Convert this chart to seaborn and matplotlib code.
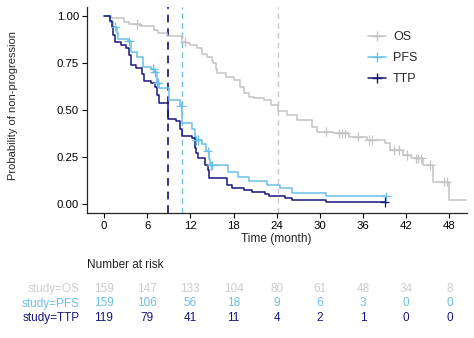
import numpy as np
import pandas as pd
import matplotlib
matplotlib.use("Agg")
import matplotlib.pyplot as plt
from matplotlib.lines import Line2D
from matplotlib.transforms import blended_transform_factory
import seaborn as sns

# ---- Kaplan-Meier step data (event times and survival after each step) ----
os_times = [0.95, 2.8, 3.5, 5.0, 6.9, 7.5, 8.8, 10.8, 11.4, 12.0, 12.9, 13.6, 14.3,
            15.0, 15.2, 15.6, 15.7, 16.9, 18.0, 18.9, 19.4, 20.2, 20.8, 22.2, 23.2,
            24.2, 25.4, 26.8, 28.9, 29.6, 31.8, 34.0, 36.5, 39.0, 39.7, 41.6, 42.7,
            44.3, 45.7, 48.0]
os_surv = [0.987, 0.97, 0.958, 0.945, 0.925, 0.91, 0.894, 0.863, 0.855, 0.845, 0.828,
           0.80, 0.78, 0.76, 0.748, 0.72, 0.695, 0.677, 0.66, 0.624, 0.589, 0.57,
           0.562, 0.553, 0.527, 0.496, 0.473, 0.447, 0.41, 0.385, 0.376, 0.358, 0.34,
           0.323, 0.287, 0.26, 0.243, 0.207, 0.119, 0.021]
os_end = 50.3
os_censor = [4.6, 11.2, 30.9, 32.7, 33.1, 33.5, 35.3, 36.8, 37.3, 40.3, 41.0, 42.1,
             43.4, 43.7, 44.1, 45.3, 47.3, 47.6]

pfs_times = [0.9, 1.2, 1.8, 2.0, 3.3, 3.7, 4.6, 5.4, 6.6, 6.95, 7.3, 7.6, 9.0, 10.6,
             10.85, 12.3, 12.6, 13.6, 14.2, 14.6, 14.8, 17.3, 18.6, 20.1, 22.6, 24.5,
             26.1, 30.9]
pfs_surv = [0.97, 0.943, 0.91, 0.88, 0.865, 0.81, 0.78, 0.73, 0.72, 0.70, 0.645, 0.615,
            0.555, 0.52, 0.43, 0.40, 0.34, 0.32, 0.28, 0.24, 0.205, 0.172, 0.145, 0.12,
            0.10, 0.085, 0.06, 0.04]
pfs_end = 39.2
pfs_censor = [1.6, 3.5, 6.85, 7.05, 7.4, 7.45, 10.7, 12.85, 13.0, 14.4, 14.9, 15.0, 39.2]

ttp_times = [0.9, 1.1, 1.3, 1.6, 2.3, 3.0, 3.5, 3.7, 4.5, 5.35, 5.55, 6.6, 7.15, 7.35,
             7.6, 8.95, 10.0, 10.6, 10.8, 12.3, 12.6, 12.8, 13.0, 14.1, 14.5, 14.6,
             17.1, 17.8, 19.4, 20.5, 22.4, 22.9, 25.2, 26.1, 30.9]
ttp_surv = [0.975, 0.94, 0.90, 0.86, 0.845, 0.83, 0.79, 0.74, 0.725, 0.69, 0.655, 0.645,
            0.62, 0.58, 0.535, 0.45, 0.44, 0.40, 0.36, 0.35, 0.30, 0.27, 0.245, 0.21,
            0.18, 0.137, 0.10, 0.085, 0.075, 0.065, 0.055, 0.045, 0.03, 0.02, 0.01]
ttp_end = 39.0
ttp_censor = [39.0]

# ---- Number at risk table ----
risk_times = [0, 6, 12, 18, 24, 30, 36, 42, 48]
risk_os = [159, 147, 133, 104, 80, 61, 48, 34, 8]
risk_pfs = [159, 106, 56, 18, 9, 6, 3, 0, 0]
risk_ttp = [119, 79, 41, 11, 4, 2, 1, 0, 0]

studies = ["OS", "PFS", "TTP"]
line_colors = {"OS": "#C4C4C4", "PFS": "#6CC0E8", "TTP": "#16167A"}
vline_colors = {"OS": "#C8C8C8", "PFS": "#6CC0E8", "TTP": "#33338A"}
risk_colors = {"OS": "#CDCDCD", "PFS": "#6CC0E8", "TTP": "#16167A"}


def km_frame(name, times, surv, end):
    t = [0.0] + list(times) + [end]
    s = [1.0] + list(surv) + [surv[-1]]
    return pd.DataFrame({"study": name, "time": t, "surv": s})


def surv_at(times, surv, t):
    idx = np.searchsorted(np.asarray(times), t, side="right") - 1
    return 1.0 if idx < 0 else surv[idx]


def median_time(times, surv):
    for t, s in zip(times, surv):
        if s <= 0.5:
            return t
    return None


series = {
    "OS": (os_times, os_surv, os_end, os_censor),
    "PFS": (pfs_times, pfs_surv, pfs_end, pfs_censor),
    "TTP": (ttp_times, ttp_surv, ttp_end, ttp_censor),
}

curves = pd.concat([km_frame(k, v[0], v[1], v[2]) for k, v in series.items()],
                   ignore_index=True)
censor_rows = []
for k, (tt, ss, _, cc) in series.items():
    for c in cc:
        censor_rows.append({"study": k, "time": c, "surv": surv_at(tt, ss, c)})
censors = pd.DataFrame(censor_rows)

# ---- Styling ----
sns.set_theme(style="ticks")
plt.rcParams["font.family"] = ["Liberation Sans", "DejaVu Sans"]
plt.rcParams["axes.linewidth"] = 0.9
plt.rcParams["xtick.major.width"] = 0.8
plt.rcParams["ytick.major.width"] = 0.8
plt.rcParams["xtick.major.size"] = 3.5
plt.rcParams["ytick.major.size"] = 3.5
plt.rcParams["xtick.color"] = "black"
plt.rcParams["ytick.color"] = "black"

fig = plt.figure(figsize=(4.74, 3.38), dpi=100)
ax = fig.add_axes([0.1829, 0.3686, 0.8017, 0.6119])

# median lines
for k, (tt, ss, _, _) in series.items():
    m = median_time(tt, ss)
    lw = 1.4 if k == "TTP" else 1.0
    ax.axvline(m, color=vline_colors[k], linestyle=(0, (4, 3)), linewidth=lw, zorder=1)

sns.lineplot(data=curves, x="time", y="surv", hue="study", hue_order=studies,
             palette=line_colors, drawstyle="steps-post", estimator=None,
             linewidth=1.1, legend=False, ax=ax, zorder=3)
sns.scatterplot(data=censors, x="time", y="surv", hue="study", hue_order=studies,
                palette=line_colors, marker="+", s=45, linewidth=0.9,
                legend=False, ax=ax, zorder=4)

ax.set_xlim(-2.4, 50.4)
ax.set_ylim(-0.05, 1.05)
ax.set_xticks(risk_times)
ax.set_yticks([0, 0.25, 0.5, 0.75, 1.0])
ax.set_yticklabels(["0.00", "0.25", "0.50", "0.75", "1.00"])
ax.tick_params(labelsize=8.2, pad=2)
ax.set_xlabel("Time (month)", fontsize=8.6, labelpad=1.5)
ax.set_ylabel("Probability of non-progression", fontsize=8)
ax.yaxis.set_label_coords(-0.182, 0.52)
sns.despine(ax=ax)

handles = [Line2D([], [], color=line_colors[k], marker="+", markersize=7,
                  markeredgewidth=1.0, linewidth=1.1) for k in studies]
ax.legend(handles, studies, loc="upper left", bbox_to_anchor=(0.724, 0.91),
          frameon=False, fontsize=9, handlelength=1.4, handletextpad=0.6,
          labelspacing=0.71, borderpad=0)

# ---- Number at risk ----
tr = blended_transform_factory(ax.transData, fig.transFigure)
tr_lab = blended_transform_factory(ax.transAxes, fig.transFigure)
fig.text(0.1829, 1 - 265 / 338, "Number at risk", fontsize=8.5,
         ha="left", va="center", color="#222222")
row_y = {"OS": 1 - 289 / 338, "PFS": 1 - 303.5 / 338, "TTP": 1 - 318 / 338}
risk_rows = {"OS": risk_os, "PFS": risk_pfs, "TTP": risk_ttp}
for k in studies:
    y = row_y[k]
    ax.text(-0.018, y, f"study={k}", transform=tr_lab, ha="right", va="center",
            fontsize=8.5, color=risk_colors[k], clip_on=False)
    for t, n in zip(risk_times, risk_rows[k]):
        ax.text(t, y, str(n), transform=tr, ha="center", va="center",
                fontsize=8.5, color=risk_colors[k], clip_on=False)

fig.savefig("out.png", dpi=100)
